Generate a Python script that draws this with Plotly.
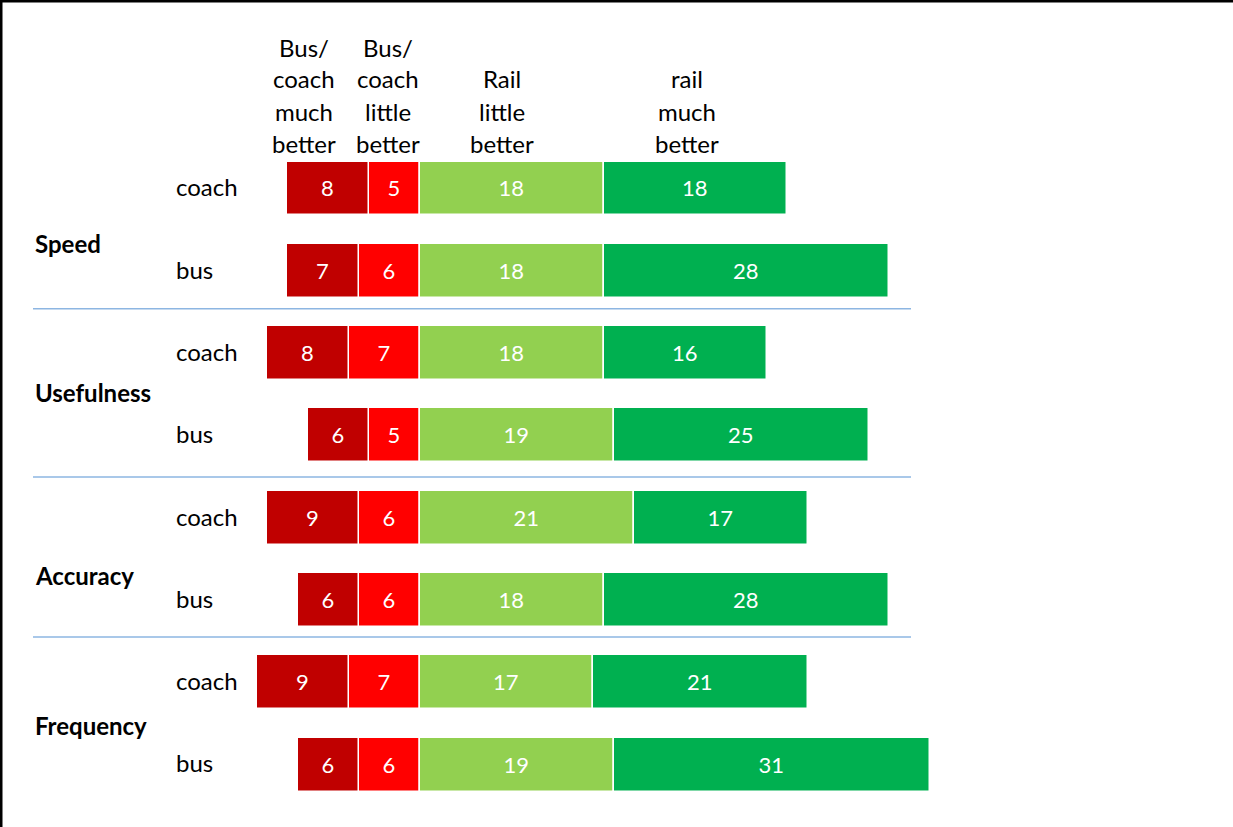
import plotly.graph_objects as go

groups = ["Speed", "Usefulness", "Accuracy", "Frequency"]
modes = ["coach", "bus"]
bus_much = [8, 7, 8, 6, 9, 6, 9, 6]
bus_little = [5, 6, 7, 5, 6, 6, 7, 6]
rail_little = [18, 18, 18, 19, 21, 18, 17, 19]
rail_much = [18, 28, 16, 25, 17, 28, 21, 31]
headers = [["Bus/", "coach", "much", "better"],
           ["Bus/", "coach", "little", "better"],
           ["Rail", "little", "better"],
           ["rail", "much", "better"]]

W, H = 1233, 827
px_per_unit = 10.2
zero_px = 420
row0_px = 188.5
row_step = 82.3

rows = list(range(len(bus_much)))
FONT = "Lato"

def px_x(p):
    return p / W

def px_y(p):
    return 1 - p / H

fig = go.Figure()
series = [
    ("Bus/coach little better", [-v for v in bus_little], bus_little, "#FF0000"),
    ("Bus/coach much better", [-v for v in bus_much], bus_much, "#C00000"),
    ("Rail little better", rail_little, rail_little, "#92D050"),
    ("rail much better", rail_much, rail_much, "#00B050"),
]
for name, xs, labels, color in series:
    fig.add_trace(go.Bar(
        y=rows, x=xs, orientation="h", name=name,
        width=0.655,
        marker=dict(color=color, line=dict(color="white", width=1.5)),
        text=[str(v) for v in labels], textposition="inside",
        insidetextanchor="middle", textangle=0, constraintext="none",
        textfont=dict(color="white", size=22, family=FONT),
        hoverinfo="skip",
    ))

x0 = -zero_px / px_per_unit
x1 = (W - zero_px) / px_per_unit
ytop = -row0_px / row_step
ybot = (H - row0_px) / row_step

ann = []
# mode labels
for i in rows:
    ann.append(dict(x=px_x(174), xref="paper", y=i - 0.02, yref="y",
                    text=modes[i % 2], showarrow=False, xanchor="left",
                    yanchor="middle", font=dict(size=24, family=FONT, color="black")))
# group labels
group_px = [243, 393, 575, 725]
for g, p in zip(groups, group_px):
    ann.append(dict(x=px_x(33), xref="paper", y=px_y(p), yref="paper",
                    text="<b>" + g + "</b>", showarrow=False, xanchor="left",
                    yanchor="middle", font=dict(size=24, family=FONT, color="black")))
# headers
header_x = [304, 388, 502, 687]
line_ys = [47, 79, 111, 143]
for hx, lines in zip(header_x, headers):
    offs = 4 - len(lines)
    for k, t in enumerate(lines):
        ann.append(dict(x=px_x(hx), xref="paper", y=px_y(line_ys[k + offs]), yref="paper",
                        text=t, showarrow=False, xanchor="center", yanchor="middle",
                        font=dict(size=24, family=FONT, color="black")))

shapes = []
sep_rows = [1.46, 3.505, 5.45]
for s in sep_rows:
    shapes.append(dict(type="line", xref="paper", yref="y",
                       x0=px_x(33), x1=px_x(911), y0=s, y1=s,
                       line=dict(color="#8DB6E2", width=1.5)))
# frame edges (top and left)
shapes.append(dict(type="rect", xref="paper", yref="paper", x0=0, x1=1, y0=1 - 2.5 / H, y1=1,
                   fillcolor="black", line=dict(width=0)))
shapes.append(dict(type="rect", xref="paper", yref="paper", x0=0, x1=2.5 / W, y0=0, y1=1,
                   fillcolor="black", line=dict(width=0)))

fig.update_layout(
    width=W, height=H, margin=dict(l=0, r=0, t=0, b=0),
    barmode="relative", bargap=0, showlegend=False,
    plot_bgcolor="white", paper_bgcolor="white",
    xaxis=dict(range=[x0, x1], visible=False, fixedrange=True),
    yaxis=dict(range=[ybot, ytop], visible=False, fixedrange=True),
    annotations=ann, shapes=shapes,
    font=dict(family=FONT),
)
fig.write_html("out.html", config={"displayModeBar": False},
               post_script="document.body.style.margin='0';document.body.style.overflow='hidden';")
